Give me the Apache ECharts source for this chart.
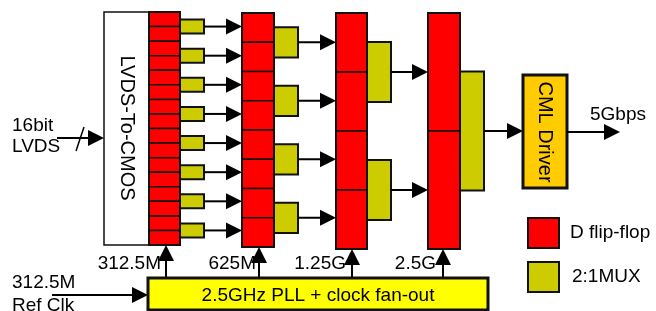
<!DOCTYPE html>
<html>
<head>
<meta charset="utf-8">
<script src="https://cdn.jsdelivr.net/npm/echarts@6/dist/echarts.min.js"></script>
<style>
  html, body { margin: 0; padding: 0; background: #fff; }
  #chart { width: 656px; height: 311px; }
</style>
</head>
<body>
<div id="chart"></div>
<script>
// diagram content
var stageCells = [16, 8, 4, 2];          // D flip-flops per stage
var muxPerStage = [8, 4, 2, 1];          // 2:1 MUX per stage
var clockLabels = ['312.5M', '625M', '1.25G', '2.5G'];
var inputLabels = ['16bit', 'LVDS'];
var refLabels = ['312.5M', 'Ref Clk'];
var blockLabels = ['LVDS-To-CMOS', 'CML Driver', '2.5GHz PLL + clock fan-out'];
var outputLabel = '5Gbps';
var legendLabels = ['D flip-flop', '2:1MUX'];

// layout (pixel units of the hidden axes)
var stageX = [[149, 180], [242, 274], [336, 367], [428, 460]];
var stageTop = [12, 13, 13, 13];
var stageBottom = [245, 247, 249, 249];
var clockX = [166, 259, 352, 443];
var clockLabelRight = [161, 256, 346, 436];
var muxW = 24;
var FONT = '19px "Liberation Sans", Arial, sans-serif';
var FONT_ROT = '20px "Liberation Sans", Arial, sans-serif';
var RED = '#ff0000', MUX = '#cccc00', PLL = '#ffff00', CML = '#ffcc00';

var items = [];
function rect(x0, y0, x1, y1, fill, lw) { items.push({k: 'rect', p: [x0, y0, x1, y1], fill: fill, lw: lw || 2}); }
function line(x0, y0, x1, y1, lw) { items.push({k: 'line', p: [x0, y0, x1, y1], lw: lw || 2}); }
function arrow(x0, y0, x1, y1) { items.push({k: 'arrow', p: [x0, y0, x1, y1]}); }
function text(s, x, y, align, rot) { items.push({k: 'text', s: s, p: [x, y], align: align || 'left', rot: rot || 0}); }

// LVDS-To-CMOS block
rect(104, 12, 149, 245, '#fff', 1.5);
text(blockLabels[0], 127, 128, 'center', -Math.PI / 2);

// flip-flop stages and muxes
stageCells.forEach(function (n, s) {
  var x0 = stageX[s][0], x1 = stageX[s][1];
  var top = stageTop[s], bot = stageBottom[s];
  var h = (bot - top) / n;
  for (var i = 0; i < n; i++) rect(x0, top + i * h, x1, top + (i + 1) * h, RED, 1.5);
  rect(x0, top, x1, bot, 'none', 2);
  var m = muxPerStage[s];
  var pair = 2 * h;
  var mh = pair / 2 + (s === 0 ? -0.5 : 1);
  for (var j = 0; j < m; j++) {
    var cy = top + j * pair + h;
    rect(x1, cy - mh / 2, x1 + muxW, cy + mh / 2, MUX, 2);
    var tx = s < stageX.length - 1 ? stageX[s + 1][0] : 523;
    arrow(x1 + muxW, cy, tx, cy);
  }
  // clock feed
  arrow(clockX[s], 278, clockX[s], bot);
  text(clockLabels[s], clockLabelRight[s], 264, 'right');
});

// CML driver and output
rect(523, 75, 567, 188, CML, 3);
text(blockLabels[1], 545, 132, 'center', -Math.PI / 2);
arrow(567, 132, 620, 132);
text(outputLabel, 590, 115, 'left');

// input bus
arrow(57, 138, 104, 138);
line(76, 151, 84, 127, 1.5);
text(inputLabels[0], 12, 126, 'left');
text(inputLabels[1], 12, 147, 'left');

// PLL and reference clock
rect(148, 278, 488, 310, PLL, 3);
text(blockLabels[2], 318, 296, 'center');
arrow(52, 295, 148, 295);
text(refLabels[0], 12, 283, 'left');
text(refLabels[1], 12, 306, 'left');

// legend
rect(528, 218, 559, 248, RED, 2);
rect(528, 262, 559, 292, MUX, 2);
text(legendLabels[0], 570, 233, 'left');
text(legendLabels[1], 572, 277, 'left');

function renderItem(params, api) {
  var it = items[params.dataIndex];
  var a = api.coord([it.p[0], it.p[1]]);
  if (it.k === 'text') {
    return {
      type: 'text', x: a[0], y: a[1], rotation: it.rot,
      style: {text: it.s, font: it.rot ? FONT_ROT : FONT, fill: '#000', align: it.align, verticalAlign: 'middle'}
    };
  }
  var b = api.coord([it.p[2], it.p[3]]);
  if (it.k === 'rect') {
    return {
      type: 'rect',
      shape: {x: a[0], y: a[1], width: b[0] - a[0], height: b[1] - a[1]},
      style: {fill: it.fill, stroke: '#111', lineWidth: it.lw}
    };
  }
  if (it.k === 'line') {
    return {type: 'line', shape: {x1: a[0], y1: a[1], x2: b[0], y2: b[1]}, style: {stroke: '#000', lineWidth: it.lw}};
  }
  // arrow: shaft + filled head
  var dx = b[0] - a[0], dy = b[1] - a[1];
  var len = Math.sqrt(dx * dx + dy * dy), ux = dx / len, uy = dy / len;
  var hl = 16, hw = 8;
  var bx = b[0] - ux * hl, by = b[1] - uy * hl;
  return {
    type: 'group',
    children: [
      {type: 'line', shape: {x1: a[0], y1: a[1], x2: bx, y2: by}, style: {stroke: '#000', lineWidth: 2}},
      {type: 'polygon', shape: {points: [[b[0], b[1]], [bx - uy * hw, by + ux * hw], [bx + uy * hw, by - ux * hw]]},
        style: {fill: '#000'}}
    ]
  };
}

var chart = echarts.init(document.getElementById('chart'), null, {renderer: 'canvas'});
chart.setOption({
  animation: false,
  grid: {left: 0, right: 0, top: 0, bottom: 0},
  xAxis: {type: 'value', min: 0, max: 656, show: false},
  yAxis: {type: 'value', min: 0, max: 311, inverse: true, show: false},
  series: [{
    type: 'custom',
    silent: true,
    clip: false,
    renderItem: renderItem,
    data: items.map(function (d, i) { return [i]; })
  }]
});
</script>
</body>
</html>
